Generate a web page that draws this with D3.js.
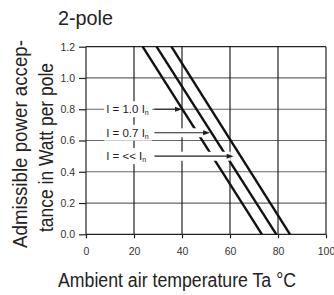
<!DOCTYPE html>
<html>
<head>
<meta charset="utf-8">
<script src="https://cdn.jsdelivr.net/npm/d3@7"></script>
<style>
    body { margin: 0; background: #fff; }
    .tickLabel { font-family: "Liberation Sans", Arial, sans-serif; font-size: 10.5px; fill: #333; }
    .bigText { font-family: "Liberation Sans", Arial, sans-serif; font-size: 21px; fill: #222; }
    .curveLabel { font-family: "Liberation Sans", Arial, sans-serif; font-size: 11.5px; fill: #222; }
</style>
</head>
<body>
<div id="chart"></div>
<script>
// data
const tempTicks = [0, 20, 40, 60, 80, 100];
const powerTicks = [0, 0.2, 0.4, 0.6, 0.8, 1.0, 1.2];

const seriesNames = ["I = 1.0 I", "I = 0.7 I", "I = << I"];
// each curve is a straight line: [temperature, power]
const series10 = [[23.6, 1.2], [73.3, 0]];
const series07 = [[29.4, 1.2], [79.3, 0]];
const seriesLow = [[35.6, 1.2], [85.0, 0]];
const allSeries = [series10, series07, seriesLow];

// where each label sits and where its arrow points
const labelPower = [0.8, 0.65, 0.5];
const labelTemp = [8.4, 8.4, 8.4];
const arrowStartTemp = [28.5, 28.5, 28.5];
const arrowTipTemp = [40, 51.7, 61.5];

class DeratingChart {

    constructor(parentElement) {
        this.parentElement = parentElement;
        this.initVis();
    }

    initVis() {
        let vis = this;

        vis.margin = {top: 46.7, right: 8, bottom: 60.7, left: 86};
        vis.width = 240;
        vis.height = 187.6;

        vis.svg = d3.select("#" + vis.parentElement).append("svg")
            .attr("width", 334)
            .attr("height", 295);

        // title (condensed look via textLength, no narrow font installed)
        vis.svg.append("text")
            .attr("class", "bigText")
            .attr("x", 58)
            .attr("y", 25)
            .attr("textLength", 55)
            .attr("lengthAdjust", "spacingAndGlyphs")
            .text("2-pole");

        // x axis title
        vis.svg.append("text")
            .attr("class", "bigText")
            .attr("x", 58)
            .attr("y", 286.5)
            .style("font-size", "20px")
            .attr("textLength", 238)
            .attr("lengthAdjust", "spacingAndGlyphs")
            .text("Ambient air temperature Ta °C");

        // y axis title, two lines
        let yTitle = vis.svg.append("text")
            .attr("class", "bigText")
            .attr("transform", "translate(27,248) rotate(-90)");
        yTitle.append("tspan").attr("x", 0).attr("y", 0)
            .attr("textLength", 208).attr("lengthAdjust", "spacingAndGlyphs")
            .text("Admissible power accep-");
        yTitle.append("tspan").attr("x", 16).attr("y", 26)
            .attr("textLength", 169).attr("lengthAdjust", "spacingAndGlyphs")
            .text("tance in Watt per pole");

        vis.g = vis.svg.append("g")
            .attr("transform", "translate(" + vis.margin.left + "," + vis.margin.top + ")");

        vis.x = d3.scaleLinear().domain([0, 100]).range([0, vis.width]);
        vis.y = d3.scaleLinear().domain([0, 1.2]).range([vis.height, 0]);

        vis.updateVis();
    }

    updateVis() {
        let vis = this;

        // horizontal grid
        vis.g.selectAll(".hGrid")
            .data(powerTicks)
            .enter()
            .append("line")
            .attr("x1", 0)
            .attr("x2", vis.width)
            .attr("y1", d => vis.y(d))
            .attr("y2", d => vis.y(d))
            .attr("stroke", d => (d === 0 || d === 1.2) ? "#222" : "#666")
            .attr("stroke-width", 1.2);

        // vertical grid
        vis.g.selectAll(".vGrid")
            .data(tempTicks)
            .enter()
            .append("line")
            .attr("x1", d => vis.x(d))
            .attr("x2", d => vis.x(d))
            .attr("y1", 0)
            .attr("y2", vis.height)
            .attr("stroke", "#222")
            .attr("stroke-width", 1.2);

        // axes (ticks + labels only)
        let xAxis = vis.g.append("g")
            .attr("transform", "translate(0," + vis.height + ")")
            .call(d3.axisBottom(vis.x).tickValues(tempTicks).tickSize(4).tickPadding(9));
        let yAxis = vis.g.append("g")
            .call(d3.axisLeft(vis.y).tickValues(powerTicks).tickFormat(d3.format(".1f")).tickSize(7).tickPadding(4));

        [xAxis, yAxis].forEach(ax => {
            ax.select(".domain").remove();
            ax.selectAll(".tick line").attr("stroke", "#222").attr("stroke-width", 1.2);
            ax.selectAll(".tick text").attr("class", "tickLabel");
        });

        // derating curves
        let line = d3.line()
            .x(d => vis.x(d[0]))
            .y(d => vis.y(d[1]));

        vis.g.selectAll(".curve")
            .data(allSeries)
            .enter()
            .append("path")
            .attr("d", line)
            .attr("fill", "none")
            .attr("stroke", "#111")
            .attr("stroke-width", 2.4);

        // white halos under the arrows
        vis.g.selectAll(".halo")
            .data(seriesNames)
            .enter()
            .append("line")
            .attr("x1", (d, i) => vis.x(arrowStartTemp[i]))
            .attr("x2", (d, i) => vis.x(arrowTipTemp[i]) - 3)
            .attr("y1", (d, i) => vis.y(labelPower[i]))
            .attr("y2", (d, i) => vis.y(labelPower[i]))
            .attr("stroke", "#fff")
            .attr("stroke-width", (d, i) => i === 0 ? 0 : 9);

        // label boxes
        vis.g.selectAll(".labelBox")
            .data(seriesNames)
            .enter()
            .append("rect")
            .attr("x", (d, i) => vis.x(labelTemp[i]) - 2)
            .attr("y", (d, i) => vis.y(labelPower[i]) - 8)
            .attr("width", 48)
            .attr("height", 16)
            .attr("fill", "#fff");

        // arrows
        vis.g.selectAll(".arrow")
            .data(seriesNames)
            .enter()
            .append("line")
            .attr("x1", (d, i) => vis.x(arrowStartTemp[i]))
            .attr("x2", (d, i) => vis.x(arrowTipTemp[i]) - 5)
            .attr("y1", (d, i) => vis.y(labelPower[i]))
            .attr("y2", (d, i) => vis.y(labelPower[i]))
            .attr("stroke", "#222")
            .attr("stroke-width", 1.1);

        vis.g.selectAll(".arrowHead")
            .data(seriesNames)
            .enter()
            .append("path")
            .attr("d", (d, i) => {
                let tx = vis.x(arrowTipTemp[i]);
                let ty = vis.y(labelPower[i]);
                return "M" + tx + "," + ty + "L" + (tx - 7) + "," + (ty - 2.5) + "L" + (tx - 7) + "," + (ty + 2.5) + "Z";
            })
            .attr("fill", "#222");

        // label texts with subscript n
        let labels = vis.g.selectAll(".curveLabel")
            .data(seriesNames)
            .enter()
            .append("text")
            .attr("class", "curveLabel")
            .attr("x", (d, i) => vis.x(labelTemp[i]))
            .attr("y", (d, i) => vis.y(labelPower[i]) + 4);
        labels.append("tspan").text(d => d);
        labels.append("tspan")
            .attr("dy", 2)
            .attr("font-size", "7px")
            .text("n");
    }
}

new DeratingChart("chart");
</script>
</body>
</html>
